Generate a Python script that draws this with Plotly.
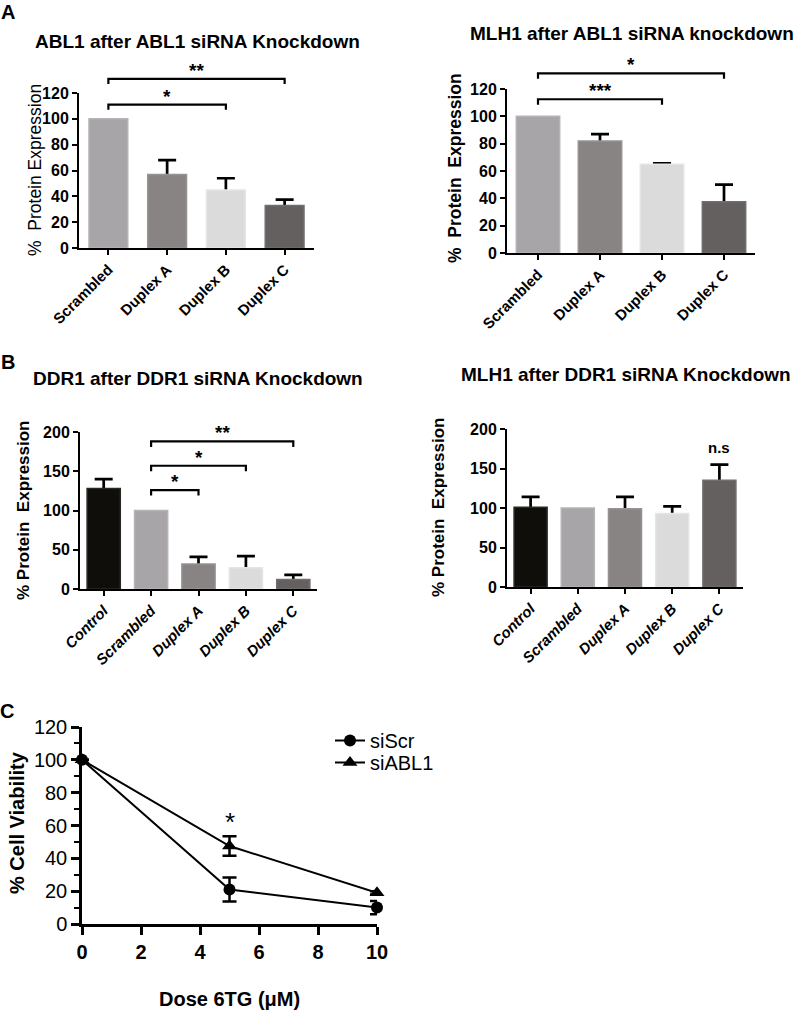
import plotly.graph_objects as go

# ---- data ----
# A: ABL1 knockdown
abl_cats = ["Scrambled", "Duplex A", "Duplex B", "Duplex C"]
abl1_mean = [100, 57, 45, 33]
abl1_err = [None, 11, 9, 4.5]
mlh1_abl_mean = [100, 82, 65, 37.5]
mlh1_abl_err = [None, 5, 0.6, 12.5]

# B: DDR1 knockdown
ddr_cats = ["Control", "Scrambled", "Duplex A", "Duplex B", "Duplex C"]
ddr1_mean = [128, 100, 32, 27, 12]
ddr1_err = [12, None, 9, 15, 6]
mlh1_ddr_mean = [101, 100, 99, 93, 135]
mlh1_ddr_err = [13, None, 15, 9, 20]

# significance brackets: (from, to, height, label)
abl1_brackets = [(0, 2, 111, "*"), (0, 3, 131, "**")]
mlh1_abl_brackets = [(0, 2, 112.5, "***"), (0, 3, 131.5, "*")]
ddr1_brackets = [(1, 2, 126, "*"), (1, 3, 157, "*"), (1, 4, 188, "**")]

# C: viability vs 6TG dose
dose = [0, 5, 10]
siscr = [100, 21, 10]
siscr_err = [0, 7.3, 4]
siabl1 = [100, 47.5, 19]
siabl1_err = [0, 6, 1]

bar_colors = {
    "Control": "#100e0b",
    "Scrambled": "#a8a5a8",
    "Duplex A": "#878483",
    "Duplex B": "#dcdbdb",
    "Duplex C": "#646060",
}
bar_edges = {
    "Control": "#2a2826",
    "Scrambled": "#b6b3b6",
    "Duplex A": "#969392",
    "Duplex B": "#e6e5e5",
    "Duplex C": "#726e6e",
}

W, H = 803, 1012
FONT = "Liberation Sans, Arial, sans-serif"
SP = "\u00a0"


def px_x(a, b):
    return [a / W, b / W]


def px_y(top, bottom):
    return [1 - bottom / H, 1 - top / H]


fig = go.Figure()
annots = []
lay = {}


def text(x, y, s, size, bold=True, angle=0, italic=False):
    annots.append(dict(
        x=x / W, y=1 - y / H, xref="paper", yref="paper", text=s, showarrow=False,
        textangle=angle, xanchor="center", yanchor="middle",
        font=dict(family=FONT, size=size, color="black",
                  weight="bold" if bold else "normal",
                  style="italic" if italic else "normal"),
    ))


def bar_panel(k, cats, means, errs, left, right, zero, ref_px, ref_val, ymax, dtick,
              bw, italic, brackets=None, bk=None, drop=4):
    n = len(cats)
    xa, ya = ("x", "y") if k == 1 else ("x%d" % k, "y%d" % k)
    scale = (zero - ref_px) / ref_val
    # error bars first (transparent bars), so the real bars hide their lower half
    ex = [c for c, e in zip(cats, errs) if e is not None]
    ey = [m for m, e in zip(means, errs) if e is not None]
    ee = [e for e in errs if e is not None]
    fig.add_trace(go.Bar(
        x=ex, y=ey, width=bw, marker=dict(color="rgba(0,0,0,0)", line=dict(width=0)),
        error_y=dict(type="data", array=ee, color="black", thickness=2.7, width=9),
        xaxis=xa, yaxis=ya, showlegend=False, hoverinfo="skip",
    ))
    fig.add_trace(go.Bar(
        x=cats, y=means,
        marker=dict(color=[bar_colors[c] for c in cats],
                    line=dict(width=1.5, color=[bar_edges[c] for c in cats])),
        width=bw, xaxis=xa, yaxis=ya, showlegend=False, hoverinfo="skip",
    ))
    lay["xaxis%d" % k] = dict(
        domain=px_x(left, right), anchor=ya, type="category", range=[-0.5, n - 0.5],
        categoryorder="array", categoryarray=cats, automargin=False,
        showline=True, linecolor="black", linewidth=2, ticks="outside", ticklen=5,
        tickwidth=2, tickcolor="black", tickangle=-45, showgrid=False, zeroline=False,
        tickfont=dict(family=FONT, size=15, color="black", weight="bold",
                      style="italic" if italic else "normal"),
    )
    lay["yaxis%d" % k] = dict(
        domain=px_y(zero - ymax * scale, zero), anchor=xa, range=[0, ymax], tick0=0, dtick=dtick,
        showline=True, linecolor="black", linewidth=2, ticks="outside", ticklen=5,
        tickwidth=2, tickcolor="black", showgrid=False, zeroline=False, automargin=False,
        tickfont=dict(family=FONT, size=16, color="black", weight="bold"),
    )
    if brackets:
        # invisible companion axes, same scale, taller so brackets sit above the axis top
        bx, by = "x%d" % bk, "y%d" % bk
        top = max(b[2] for b in brackets) + 15
        lay["xaxis%d" % bk] = dict(domain=px_x(left, right), anchor=by, range=[-0.5, n - 0.5],
                                   visible=False, automargin=False)
        lay["yaxis%d" % bk] = dict(domain=px_y(zero - top * scale, zero), anchor=bx,
                                   range=[0, top], visible=False, automargin=False)
        for i, j, yv, lab in brackets:
            fig.add_trace(go.Scatter(
                x=[i, i, j, j], y=[yv - drop, yv, yv, yv - drop], mode="lines",
                line=dict(color="black", width=2.2), xaxis=bx, yaxis=by,
                showlegend=False, hoverinfo="skip",
            ))
            annots.append(dict(
                x=(i + j) / 2, y=yv, xref=bx, yref=by, text=lab, showarrow=False,
                yanchor="bottom", yshift=-4,
                font=dict(family=FONT, size=19, color="black", weight="bold"),
            ))


# A left
bar_panel(1, abl_cats, abl1_mean, abl1_err, 79, 314, 248, 93, 120, 120, 20, 0.66, False,
          abl1_brackets, 6, drop=4)
# A right
bar_panel(2, abl_cats, mlh1_abl_mean, mlh1_abl_err, 507, 755, 253, 89, 120, 120, 20, 0.7, False,
          mlh1_abl_brackets, 7, drop=4)
# B left
bar_panel(3, ddr_cats, ddr1_mean, ddr1_err, 80, 317, 589, 432, 200, 200, 50, 0.7, True,
          ddr1_brackets, 8, drop=7)
# B right
bar_panel(4, ddr_cats, mlh1_ddr_mean, mlh1_ddr_err, 507, 743, 587, 429, 200, 200, 50, 0.7, True)
annots.append(dict(x="Duplex C", y=177, xref="x4", yref="y4", text="n.s", showarrow=False,
                   font=dict(family=FONT, size=15, color="black", weight="bold")))

# C line chart, one legend per entry so the rows sit close together
fig.add_trace(go.Scatter(
    x=dose, y=siscr, name="siScr", mode="lines+markers", legend="legend",
    line=dict(color="black", width=2), marker=dict(symbol="circle", size=12, color="black"),
    error_y=dict(type="data", array=siscr_err, color="black", thickness=2.5, width=7),
    xaxis="x5", yaxis="y5", cliponaxis=False,
))
fig.add_trace(go.Scatter(
    x=dose, y=siabl1, name="siABL1", mode="lines+markers", legend="legend2",
    line=dict(color="black", width=2), marker=dict(symbol="triangle-up", size=13, color="black"),
    error_y=dict(type="data", array=siabl1_err, color="black", thickness=2.5, width=7),
    xaxis="x5", yaxis="y5", cliponaxis=False,
))
lay["xaxis5"] = dict(
    domain=px_x(82, 377), anchor="y5", range=[0, 10], tick0=0, dtick=2, automargin=False,
    showline=True, linecolor="black", linewidth=2.5, ticks="outside", ticklen=8,
    tickwidth=2.5, tickcolor="black", showgrid=False, zeroline=False,
    tickfont=dict(family=FONT, size=20, color="black", weight="bold"),
)
lay["yaxis5"] = dict(
    domain=px_y(727, 924), anchor="x5", range=[0, 120], tick0=0, dtick=20, automargin=False,
    showline=True, linecolor="black", linewidth=2.5, ticks="outside", ticklen=8,
    tickwidth=2.5, tickcolor="black", showgrid=False, zeroline=False,
    minor=dict(dtick=10, ticks="outside", ticklen=5, tickwidth=2, tickcolor="black"),
    tickfont=dict(family=FONT, size=20, color="black"),
)
annots.append(dict(x=5, y=62, xref="x5", yref="y5", text="*", showarrow=False,
                   font=dict(family=FONT, size=26, color="black")))

# titles and labels
text(8, 12, "A", 20)
text(8, 362, "B", 20)
text(7, 711, "C", 20)
text(197, 42, "ABL1 after ABL1 siRNA Knockdown", 19)
text(632, 33, "MLH1 after ABL1 siRNA knockdown", 19)
text(198, 378, "DDR1 after DDR1 siRNA Knockdown", 19)
text(626, 375, "MLH1 after DDR1 siRNA Knockdown", 19)
text(35, 170, "%" + SP + " Protein Expression", 17.5, bold=False, angle=-90)
text(455, 168, "%" + SP + " Protein" + SP + " Expression", 17.5, angle=-90)
text(23, 510, "% Protein" + SP + " Expression", 17, angle=-90)
text(438, 507, "% Protein" + SP + " Expression", 17, angle=-90)
text(17, 823, "% Cell Viability", 20, angle=-90)
text(230, 999, "Dose 6TG (\u03bcM)", 20)

leg = dict(xanchor="left", yanchor="top", x=330 / W, bgcolor="rgba(0,0,0,0)", itemwidth=30,
           font=dict(family=FONT, size=20, color="black"))

fig.update_layout(
    width=W, height=H, autosize=False,
    margin=dict(l=0, r=0, t=0, b=0, pad=0),
    paper_bgcolor="white", plot_bgcolor="rgba(0,0,0,0)",
    barmode="overlay",
    font=dict(family=FONT, color="black"),
    annotations=annots,
    legend=dict(leg, y=1 - 721 / H),
    legend2=dict(leg, y=1 - 743 / H),
    **lay,
)

# page body has an 8px default margin; drop it so the figure fills the window
fig.write_html("out.html", config={"displayModeBar": False},
               post_script="document.body.style.margin='0';")
